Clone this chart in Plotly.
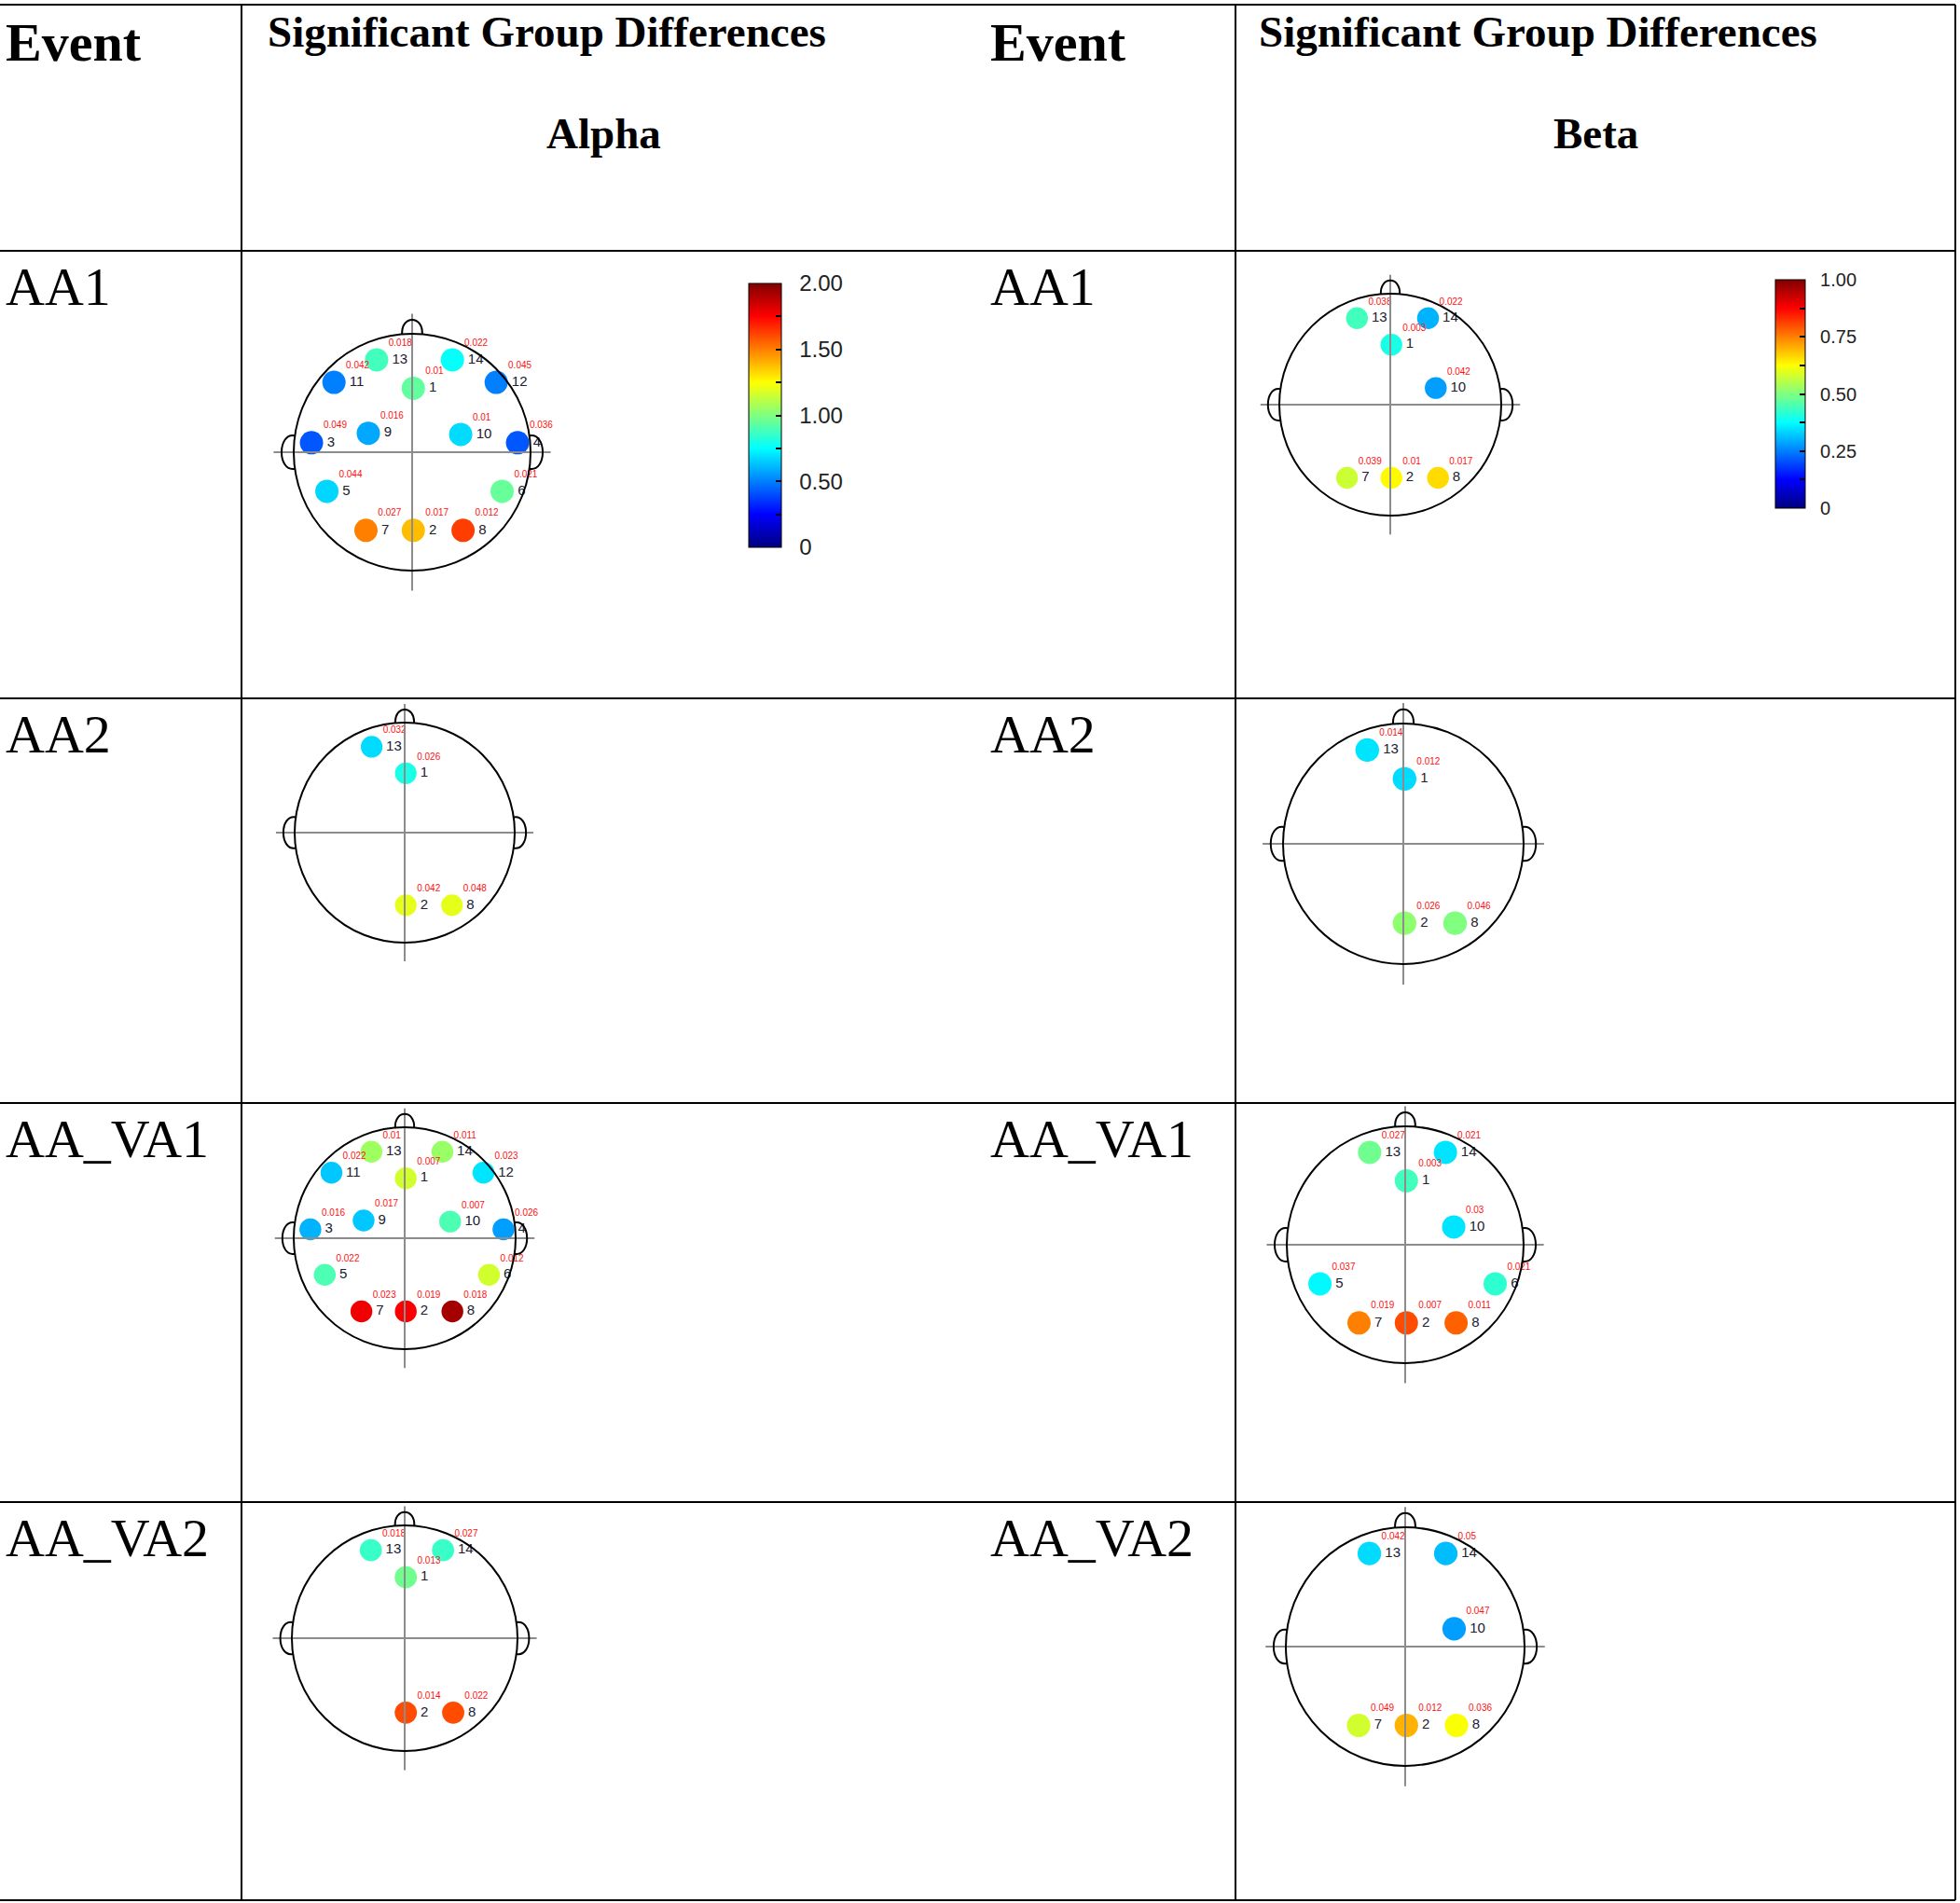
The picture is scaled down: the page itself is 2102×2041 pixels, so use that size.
import plotly.graph_objects as go

W, H = 2102, 2041

# electrode layout on a unit head (channel number -> position)
chan_ids = [1, 2, 3, 4, 5, 6, 7, 8, 9, 10, 11, 12, 13, 14]
chan_x = [0.01, 0.01, -0.85, 0.89, -0.72, 0.76, -0.39, 0.43, -0.37, 0.41, -0.66, 0.71, -0.30, 0.34]
chan_y = [0.54, -0.66, 0.08, 0.08, -0.33, -0.33, -0.66, -0.66, 0.16, 0.15, 0.59, 0.59, 0.78, 0.78]

events = ["AA1", "AA2", "AA_VA1", "AA_VA2"]
bands = ["Alpha", "Beta"]

# significant channels, effect values and p values per event/band
alpha_aa1_ch = [13, 14, 11, 12, 1, 9, 10, 3, 4, 5, 6, 7, 2, 8]
alpha_aa1_val = [0.88, 0.76, 0.50, 0.50, 0.94, 0.58, 0.68, 0.42, 0.42, 0.67, 0.95, 1.50, 1.38, 1.63]
alpha_aa1_p = ["0.018", "0.022", "0.042", "0.045", "0.01", "0.016", "0.01", "0.049", "0.036",
               "0.044", "0.021", "0.027", "0.017", "0.012"]

beta_aa1_ch = [13, 14, 1, 10, 7, 2, 8]
beta_aa1_val = [0.44, 0.30, 0.40, 0.28, 0.575, 0.63, 0.66]
beta_aa1_p = ["0.038", "0.022", "0.003", "0.042", "0.039", "0.01", "0.017"]

alpha_aa2_ch = [13, 1, 2, 8]
alpha_aa2_val = [0.68, 0.80, 1.20, 1.20]
alpha_aa2_p = ["0.032", "0.026", "0.042", "0.048"]

beta_aa2_ch = [13, 1, 2, 8]
beta_aa2_val = [0.35, 0.34, 0.515, 0.50]
beta_aa2_p = ["0.014", "0.012", "0.026", "0.046"]

alpha_aava1_ch = [13, 14, 11, 12, 1, 9, 10, 3, 4, 5, 6, 7, 2, 8]
alpha_aava1_val = [1.06, 1.05, 0.64, 0.70, 1.16, 0.64, 0.90, 0.60, 0.56, 0.90, 1.16, 1.78, 1.76, 1.93]
alpha_aava1_p = ["0.01", "0.011", "0.022", "0.023", "0.007", "0.017", "0.007", "0.016", "0.026",
                 "0.022", "0.012", "0.023", "0.019", "0.018"]

beta_aava1_ch = [13, 14, 1, 10, 5, 6, 7, 2, 8]
beta_aava1_val = [0.485, 0.35, 0.44, 0.35, 0.37, 0.42, 0.75, 0.80, 0.78]
beta_aava1_p = ["0.027", "0.021", "0.003", "0.03", "0.037", "0.021", "0.019", "0.007", "0.011"]

alpha_aava2_ch = [13, 14, 1, 2, 8]
alpha_aava2_val = [0.86, 0.86, 0.97, 1.60, 1.60]
alpha_aava2_p = ["0.018", "0.027", "0.013", "0.014", "0.022"]

beta_aava2_ch = [13, 14, 10, 7, 2, 8]
beta_aava2_val = [0.34, 0.31, 0.28, 0.58, 0.70, 0.62]
beta_aava2_p = ["0.042", "0.05", "0.047", "0.049", "0.012", "0.036"]

alpha_cb_vals = [0, 0.25, 0.5, 0.75, 1.0, 1.25, 1.5, 1.75, 2.0]
alpha_cb_text = ["  0", "", "  0.50", "", "  1.00", "", "  1.50", "", "  2.00"]
beta_cb_vals = [0, 0.125, 0.25, 0.375, 0.5, 0.625, 0.75, 0.875, 1.0]
beta_cb_text = ["  0", "", "  0.25", "", "  0.50", "", "  0.75", "", "  1.00"]

jet = [[0, "#000080"], [0.125, "#0000ff"], [0.375, "#00ffff"],
       [0.625, "#ffff00"], [0.875, "#ff0000"], [1, "#800000"]]

SERIF = "Liberation Serif, Times New Roman, serif"
SANS = "Liberation Sans, Arial, sans-serif"

# head panels: (channels, values, p values, vmax, centre x, centre y, radius) in page pixels
heads = [
    (alpha_aa1_ch, alpha_aa1_val, alpha_aa1_p, 2.0, 442, 485, 127),
    (beta_aa1_ch, beta_aa1_val, beta_aa1_p, 1.0, 1491, 434, 119),
    (alpha_aa2_ch, alpha_aa2_val, alpha_aa2_p, 2.0, 434, 893, 118),
    (beta_aa2_ch, beta_aa2_val, beta_aa2_p, 1.0, 1505, 905, 129),
    (alpha_aava1_ch, alpha_aava1_val, alpha_aava1_p, 2.0, 434, 1328, 119),
    (beta_aava1_ch, beta_aava1_val, beta_aava1_p, 1.0, 1507, 1335, 127),
    (alpha_aava2_ch, alpha_aava2_val, alpha_aava2_p, 2.0, 434, 1757, 121),
    (beta_aava2_ch, beta_aava2_val, beta_aava2_p, 1.0, 1507, 1766, 128),
]

colorbars = {
    0: dict(x=803 / W, y=1 - 445.5 / H, len=283, thickness=35,
            tickvals=alpha_cb_vals, ticktext=alpha_cb_text, size=24),
    1: dict(x=1904 / W, y=1 - 422.5 / H, len=245, thickness=32,
            tickvals=beta_cb_vals, ticktext=beta_cb_text, size=20),
}

fig = go.Figure()
layout = dict(
    width=W, height=H,
    margin=dict(l=0, r=0, t=0, b=0),
    paper_bgcolor="white", plot_bgcolor="rgba(0,0,0,0)",
    showlegend=False,
    xaxis=dict(domain=[0, 1], range=[0, W], visible=False, fixedrange=True),
    yaxis=dict(domain=[0, 1], range=[H, 0], visible=False, fixedrange=True),
)
shapes = []
annotations = []

# table grid
row_lines = [5, 269, 749, 1183, 1611, 2038]
col_lines = [259, 1325, 2097]
for yl in row_lines:
    shapes.append(dict(type="line", xref="x", yref="y", x0=0, x1=2097, y0=yl, y1=yl,
                       line=dict(color="black", width=2)))
for xl in col_lines:
    shapes.append(dict(type="line", xref="x", yref="y", x0=xl, x1=xl, y0=5, y1=2038,
                       line=dict(color="black", width=2)))

# header texts
for x_ev, x_sig, x_band, band in [(4, 285, 647, bands[0]), (1060, 1348, 1711, bands[1])]:
    annotations.append(dict(xref="x", yref="y", x=x_ev, y=45, text="<b>Event</b>", showarrow=False,
                            xanchor="left", yanchor="middle", font=dict(family=SERIF, size=58, color="black")))
    annotations.append(dict(xref="x", yref="y", x=x_sig, y=34, text="<b>Significant Group Differences</b>",
                            showarrow=False, xanchor="left", yanchor="middle",
                            font=dict(family=SERIF, size=47, color="black")))
    annotations.append(dict(xref="x", yref="y", x=x_band, y=143, text="<b>%s</b>" % band, showarrow=False,
                            xanchor="center", yanchor="middle", font=dict(family=SERIF, size=47, color="black")))

# event labels in both event columns
for i, ev in enumerate(events):
    for x_ev in (4, 1060):
        annotations.append(dict(xref="x", yref="y", x=x_ev, y=row_lines[i + 1] + 38, text=ev,
                                showarrow=False, xanchor="left", yanchor="middle",
                                font=dict(family=SERIF, size=58, color="black")))

for n, (ch, val, pv, vmax, cx, cy, r) in enumerate(heads):
    ax = n + 2
    half = 1.3 * r
    layout["xaxis%d" % ax] = dict(domain=[(cx - half) / W, (cx + half) / W], range=[-1.3, 1.3],
                                  visible=False, fixedrange=True, anchor="y%d" % ax)
    layout["yaxis%d" % ax] = dict(domain=[1 - (cy + half) / H, 1 - (cy - half) / H], range=[-1.3, 1.3],
                                  visible=False, fixedrange=True, anchor="x%d" % ax)
    xr, yr = "x%d" % ax, "y%d" % ax

    # head outline, nose, ears and cross-hair
    shapes.append(dict(type="line", xref=xr, yref=yr, x0=-1.17, x1=1.17, y0=0, y1=0,
                       line=dict(color="#8c8c8c", width=2)))
    shapes.append(dict(type="line", xref=xr, yref=yr, x0=0, x1=0, y0=-1.17, y1=1.17,
                       line=dict(color="#8c8c8c", width=2)))
    shapes.append(dict(type="circle", xref=xr, yref=yr, x0=-1, x1=1, y0=-1, y1=1,
                       line=dict(color="black", width=2)))
    shapes.append(dict(type="path", xref=xr, yref=yr,
                       path="M -0.085 0.995 C -0.095 1.16, 0.095 1.16, 0.085 0.995",
                       line=dict(color="black", width=2)))
    shapes.append(dict(type="path", xref=xr, yref=yr,
                       path="M -0.99 0.14 C -1.14 0.17, -1.14 -0.17, -0.99 -0.14",
                       line=dict(color="black", width=2)))
    shapes.append(dict(type="path", xref=xr, yref=yr,
                       path="M 0.99 0.14 C 1.14 0.17, 1.14 -0.17, 0.99 -0.14",
                       line=dict(color="black", width=2)))

    xs = [chan_x[chan_ids.index(c)] for c in ch]
    ys = [chan_y[chan_ids.index(c)] for c in ch]
    scale = r / 127.0
    marker = dict(color=val, colorscale=jet, cmin=0, cmax=vmax, size=25 * scale,
                  line=dict(width=0), showscale=False)
    if n in colorbars:
        cb = colorbars[n]
        marker["showscale"] = True
        marker["colorbar"] = dict(
            x=cb["x"], xanchor="left", y=cb["y"], yanchor="middle",
            len=cb["len"], lenmode="pixels", thickness=cb["thickness"], thicknessmode="pixels",
            xpad=0, ypad=0, outlinewidth=1, outlinecolor="black",
            tickvals=cb["tickvals"], ticktext=cb["ticktext"], ticks="inside", ticklen=6,
            tickcolor="black", tickwidth=2,
            tickfont=dict(family=SANS, size=cb["size"], color="#222222"),
        )
    fig.add_trace(go.Scatter(
        x=xs, y=ys, xaxis=xr, yaxis=yr, mode="markers+text",
        marker=marker, text=[str(c) for c in ch], textposition="middle right",
        textfont=dict(family=SANS, size=15, color="#202030"),
        cliponaxis=False, hoverinfo="skip",
    ))
    fig.add_trace(go.Scatter(
        x=xs, y=ys, xaxis=xr, yaxis=yr, mode="markers+text",
        marker=dict(size=19 * scale, opacity=0),
        text=pv, textposition="top right",
        textfont=dict(family=SANS, size=10, color="#ff1010"),
        cliponaxis=False, hoverinfo="skip",
    ))

layout["shapes"] = shapes
layout["annotations"] = annotations
fig.update_layout(**layout)

fig.write_html("out.html", config={"displayModeBar": False},
               post_script="document.body.style.margin='0';")
